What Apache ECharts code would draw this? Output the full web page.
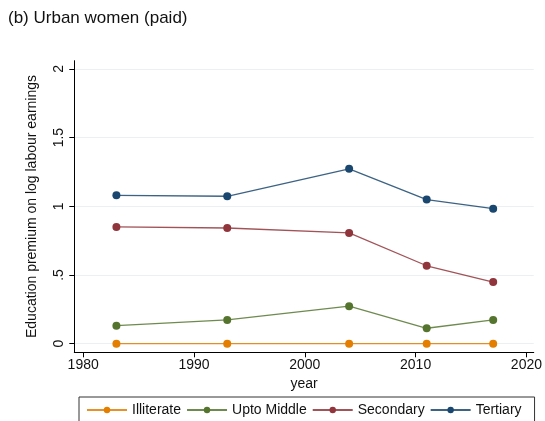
<!DOCTYPE html>
<html>
<head>
<meta charset="utf-8">
<script src="https://cdn.jsdelivr.net/npm/echarts@6/dist/echarts.min.js"></script>
<style>
  html, body { margin: 0; padding: 0; background: #fff; }
  #chart { width: 545px; height: 421px; }
</style>
</head>
<body>
<div id="chart"></div>
<script>
// Survey years
const years = [1983, 1993, 2004, 2011, 2017];

// Education premium on log labour earnings, relative to illiterate
const illiterate = [0, 0, 0, 0, 0];
const uptoMiddle = [0.131, 0.173, 0.273, 0.112, 0.173];
const secondary  = [0.850, 0.842, 0.806, 0.567, 0.448];
const tertiary   = [1.080, 1.073, 1.273, 1.049, 0.983];

const seriesNames = ['Illiterate', 'Upto Middle', 'Secondary', 'Tertiary'];
const seriesColors = ['#e37e00', '#55752f', '#90353b', '#1a476f'];
const seriesValues = [illiterate, uptoMiddle, secondary, tertiary];

const yTicks = [0, 0.5, 1, 1.5, 2];
const xTicks = [1980, 1990, 2000, 2010, 2020];

const FONT = '"Liberation Sans", Arial, Helvetica, sans-serif';

const chart = echarts.init(document.getElementById('chart'), null, { renderer: 'canvas' });

// Stata-style y labels: ".5" rather than "0.5"
function fmtY(v) {
  if (Math.abs(v) < 1e-9) return '0';
  return String(+v.toFixed(2)).replace(/^0\./, '.');
}

chart.setOption({
  animation: false,
  backgroundColor: '#ffffff',
  title: {
    text: '(b) Urban women (paid)',
    left: 3,
    top: 5,
    textStyle: { fontFamily: FONT, fontSize: 17, fontWeight: 'normal', color: '#111' }
  },
  grid: { left: 74.3, top: 60.7, width: 460.7, height: 291.6, containLabel: false },
  xAxis: {
    type: 'value',
    min: 1979.2,
    max: 2020.66,
    name: 'year',
    nameLocation: 'middle',
    nameGap: 22,
    nameTextStyle: { fontFamily: FONT, fontSize: 14, color: '#111' },
    axisLine: { onZero: false, lineStyle: { color: '#000', width: 1 } },
    axisTick: { show: true, length: 5, lineStyle: { color: '#000' }, customValues: xTicks },
    axisLabel: { fontFamily: FONT, fontSize: 14, color: '#111', margin: 6, customValues: xTicks,
                 formatter: v => String(v) },
    splitLine: { show: false }
  },
  yAxis: {
    type: 'value',
    min: -0.063,
    max: 2.06,
    name: 'Education premium on log labour earnings',
    nameLocation: 'middle',
    nameGap: 35,
    nameRotate: 90,
    nameTextStyle: { fontFamily: FONT, fontSize: 14, color: '#111' },
    axisLine: { show: true, onZero: false, lineStyle: { color: '#000', width: 1 } },
    axisTick: { show: true, length: 5, lineStyle: { color: '#000' }, customValues: yTicks },
    axisLabel: { fontFamily: FONT, fontSize: 14, color: '#111', rotate: 90, margin: 8,
                 customValues: yTicks, formatter: fmtY },
    splitLine: { show: true, lineStyle: { color: '#eaf1f3', width: 1 }, customValues: yTicks }
  },
  legend: {
    data: seriesNames,
    left: 79,
    top: 397,
    padding: [6, 13, 6, 7],
    itemGap: 5,
    itemWidth: 40,
    itemHeight: 8,
    borderColor: '#333',
    borderWidth: 1,
    textStyle: { fontFamily: FONT, fontSize: 14, color: '#111' }
  },
  series: seriesNames.map((name, i) => ({
    name: name,
    type: 'line',
    data: years.map((y, k) => [y, seriesValues[i][k]]),
    symbol: 'circle',
    symbolSize: 8,
    itemStyle: { color: seriesColors[i] },
    lineStyle: { color: seriesColors[i], width: 1.3, opacity: 0.85 },
    z: 2 + i
  }))
});
</script>
</body>
</html>
